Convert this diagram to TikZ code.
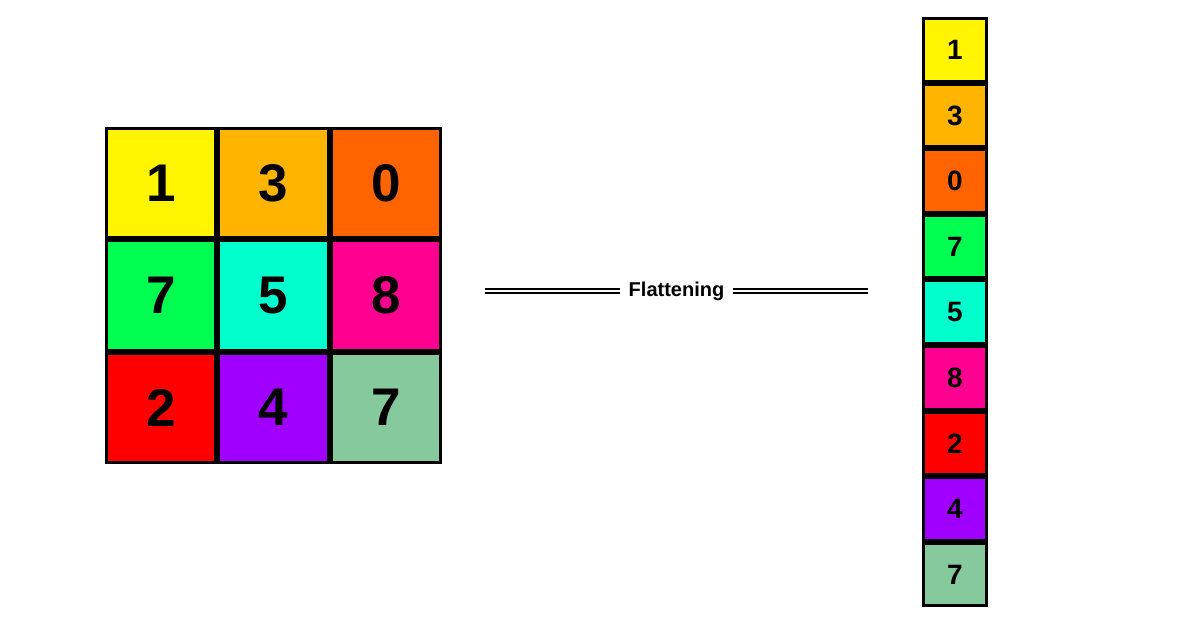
\documentclass[tikz,border=0pt]{standalone}
\usepackage{fontspec}
\setmainfont{Liberation Sans}
\definecolor{cA}{HTML}{FFF500}
\definecolor{cB}{HTML}{FFB400}
\definecolor{cC}{HTML}{FF6400}
\definecolor{cD}{HTML}{00FF50}
\definecolor{cE}{HTML}{00FFCC}
\definecolor{cF}{HTML}{FF0090}
\definecolor{cG}{HTML}{FF0000}
\definecolor{cH}{HTML}{A000FF}
\definecolor{cI}{HTML}{85C99D}
\tikzset{
  bigcell/.style={draw=black, line width=3pt, minimum width=109.3pt, minimum height=109.3pt, inner sep=0pt, font=\fontsize{53}{53}\selectfont\bfseries},
  smallcell/.style={draw=black, line width=3pt, minimum width=63pt, minimum height=62.6pt, inner sep=0pt, font=\fontsize{28}{28}\selectfont\bfseries},
  flatline/.style={draw=black, line width=2.1pt, double=white, double distance=2.3pt},
  flatlabel/.style={fill=white, inner sep=0pt, inner xsep=9pt, font=\fontsize{20}{20}\selectfont\bfseries}
}
\begin{document}
\begin{tikzpicture}[x=1pt,y=-1pt]
\useasboundingbox (0,0) rectangle (1200,626);
% grid
\node[bigcell, fill=cA] (g11) at (161.15,183.15) {1};
\node[bigcell, fill=cB] (g12) at (273.45,183.15) {3};
\node[bigcell, fill=cC] (g13) at (385.75,183.15) {0};
\node[bigcell, fill=cD] (g21) at (161.15,295.45) {7};
\node[bigcell, fill=cE] (g22) at (273.45,295.45) {5};
\node[bigcell, fill=cF] (g23) at (385.75,295.45) {8};
\node[bigcell, fill=cG] (g31) at (161.15,407.75) {2};
\node[bigcell, fill=cH] (g32) at (273.45,407.75) {4};
\node[bigcell, fill=cI] (g33) at (385.75,407.75) {7};
% column
\node[smallcell, fill=cA] (c1) at (955,49.8) {1};
\node[smallcell, fill=cB] (c2) at (955,115.4) {3};
\node[smallcell, fill=cC] (c3) at (955,181.0) {0};
\node[smallcell, fill=cD] (c4) at (955,246.6) {7};
\node[smallcell, fill=cE] (c5) at (955,312.2) {5};
\node[smallcell, fill=cF] (c6) at (955,377.8) {8};
\node[smallcell, fill=cG] (c7) at (955,443.4) {2};
\node[smallcell, fill=cH] (c8) at (955,509.0) {4};
\node[smallcell, fill=cI] (c9) at (955,574.6) {7};
% connector
\coordinate (fs) at (485,291);
\coordinate (fe) at (868,291);
\node[flatlabel] (lab) at (676.5,291) {Flattening};
\draw[flatline] (fs) -- (lab.west);
\draw[flatline] (lab.east) -- (fe);
\end{tikzpicture}
\end{document}
